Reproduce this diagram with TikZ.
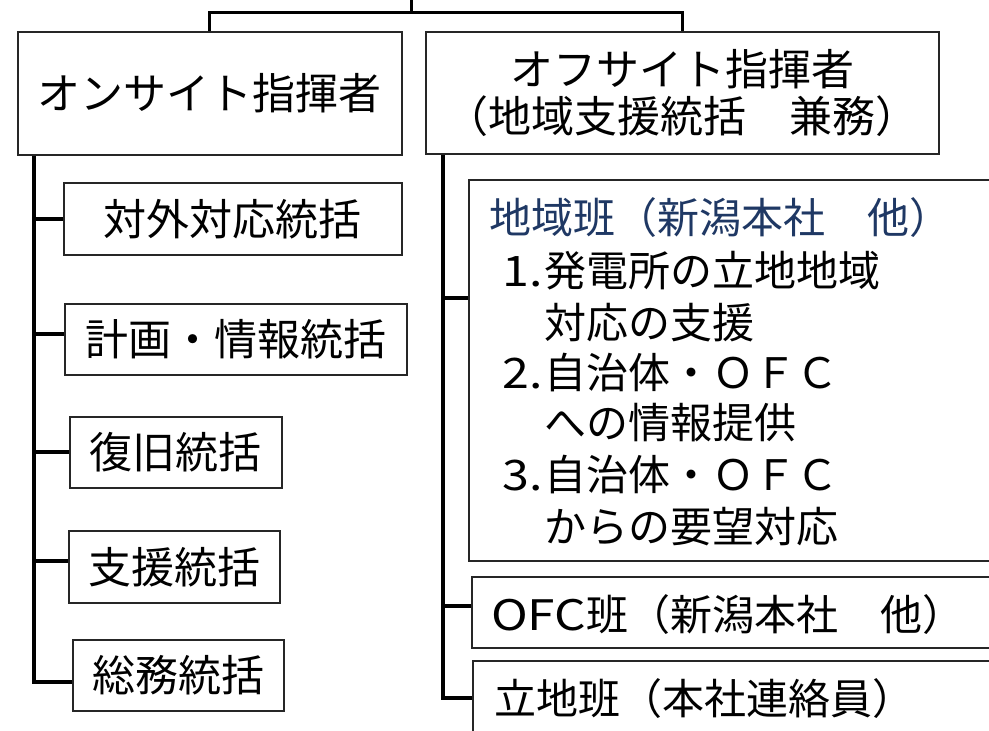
\documentclass[tikz,border=0pt]{standalone}
\usepackage{fontspec}
\newfontfamily\jpfont{Noto Sans CJK JP}
\definecolor{navyhead}{HTML}{1F3864}
\begin{document}
\begin{tikzpicture}[x=1pt,y=-1pt,
  boxnode/.style={draw=black!85,line width=1.5pt,inner sep=0pt,anchor=north west},
  jp/.style={font=\jpfont\fontsize{43}{47}\selectfont},
  jpr/.style={font=\jpfont\fontsize{42}{47}\selectfont},
  linetext/.style={jpr,inner sep=0pt,anchor=base west},
  conn/.style={line width=4pt},
  topconn/.style={line width=3pt}]
\useasboundingbox (0,0) rectangle (989,731);
\clip (0,0) rectangle (989,731);
% top level
\coordinate (root) at (411,0);
\coordinate (bar) at (411,12);
\node[boxnode,jp,minimum width=384pt,minimum height=123pt] (onsite) at (17,31) {オンサイト指揮者};
\node[boxnode,jp,align=center,minimum width=513pt,minimum height=122pt] (offsite) at (425,31) {オフサイト指揮者\\（地域支援統括　兼務）};
\draw[topconn] (root) -- (bar);
\draw[topconn] (onsite.north) |- (bar) -| (offsite.north);
% left column
\node[boxnode,jp,minimum width=338pt,minimum height=72pt] (c1) at (63,182) {対外対応統括};
\node[boxnode,jp,minimum width=342pt,minimum height=71pt] (c2) at (64,303) {計画・情報統括};
\node[boxnode,jp,minimum width=212pt,minimum height=71pt] (c3) at (69,416) {復旧統括};
\node[boxnode,jp,minimum width=211pt,minimum height=72pt] (c4) at (68,530) {支援統括};
\node[boxnode,jp,minimum width=211pt,minimum height=71pt] (c5) at (72,639) {総務統括};
\coordinate (lstart) at ([xshift=17pt]onsite.south west);
\coordinate (k1) at (c1.west);
\coordinate (k2) at ([yshift=5pt]c2.west);
\coordinate (k3) at (c3.west);
\coordinate (k4) at ([yshift=6pt]c4.west);
\coordinate (k5) at ([yshift=-6.5pt]c5.west);
\draw[conn] (lstart) |- (k5);
\draw[conn] (k1 -| lstart) -- (k1);
\draw[conn] (k2 -| lstart) -- (k2);
\draw[conn] (k3 -| lstart) -- (k3);
\draw[conn] (k4 -| lstart) -- (k4);
% right column
\node[boxnode,minimum width=560pt,minimum height=381pt] (chiiki) at (468,179) {};
\node[boxnode,minimum width=560pt,minimum height=71pt] (ofc) at (471,576) {};
\node[boxnode,minimum width=560pt,minimum height=85pt] (ritchi) at (472,660) {};
\coordinate (rstart) at ([xshift=18pt]offsite.south west);
\coordinate (m1) at ([yshift=72.5pt]chiiki.west);
\coordinate (m2) at ([yshift=6.5pt]ofc.west);
\coordinate (m3) at ([yshift=5.5pt]ritchi.west);
\draw[conn] (rstart) |- (m3);
\draw[conn] (m1 -| rstart) -- (m1);
\draw[conn] (m2 -| rstart) -- (m2);
% texts in right boxes
\node[linetext,text=navyhead] (h0) at (489,233) {地域班（新潟本社　他）};
\node[linetext] (h1) at (502,286) {\makebox[42pt][l]{\scalebox{1.15}[1]{1.}}発電所の立地地域};
\node[linetext] (h2) at (544,338) {対応の支援};
\node[linetext] (h3) at (502,388) {\makebox[42pt][l]{\scalebox{1.15}[1]{2.}}自治体・ＯＦＣ};
\node[linetext] (h4) at (544,438) {への情報提供};
\node[linetext] (h5) at (502,490) {\makebox[42pt][l]{\scalebox{1.15}[1]{3.}}自治体・ＯＦＣ};
\node[linetext] (h6) at (544,542) {からの要望対応};
\node[linetext] (t2) at (491,630) {\scalebox{1.18}[1]{OFC}班（新潟本社　他）};
\node[linetext] (t3) at (494,714) {立地班（本社連絡員）};
\end{tikzpicture}
\end{document}
